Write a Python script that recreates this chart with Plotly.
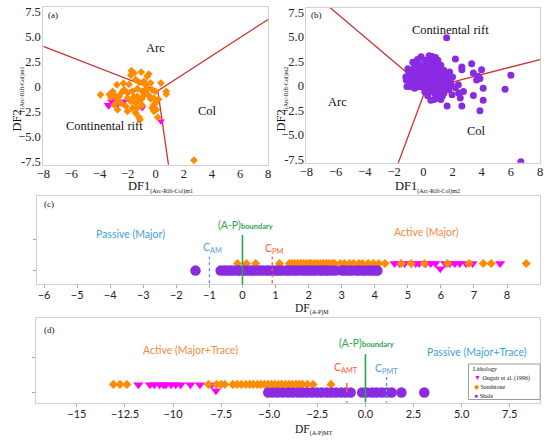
import plotly.graph_objects as go

# ---- panel (a): DF1/DF2 (Arc-Rift-Col) m1 ----
a_sand_x = [-1.73, -1.54, -1.78, -1.03, -0.61, -0.49, -1.43, -1.19, -0.84, -0.72,
            -0.37, 0.37, 0.75, 0.75, -2.76, -3.93, -3.07, -2.90, -2.25, -2.01,
            -1.66, -1.31, -0.96, -0.61, -0.26, -0.02, -1.31, -0.84, -2.72, -2.48,
            -2.01, -1.78, -1.43, -1.19, -0.37, -0.14, -0.02, -0.14, -2.95, -2.13,
            -1.31, -0.96, -0.26, 0.05, -1.66, -2.72, -2.01, -1.43, -0.14, -1.19,
            -1.12, 0.14, 2.72, -3.30, -3.20, -2.60, -2.40, -1.90, -1.55, -0.80,
            -2.30, -1.00, -0.50, 0.20]
a_sand_y = [1.56, 1.33, 1.10, 1.43, 1.00, 1.23, 0.66, 0.43, 0.50, 0.16,
            0.33, 0.33, -0.50, -0.77, 0.16, -0.84, -0.50, -0.90, -0.34, -0.67,
            -0.50, -0.24, -0.50, -0.34, -0.34, -0.50, -1.00, -0.90, -1.34, -1.67,
            -1.17, -1.50, -1.67, -1.44, -1.24, -1.17, -1.67, -1.84, -1.84, -2.00,
            -2.17, -1.90, -2.17, -2.34, -2.17, -2.34, -2.50, -2.67, -2.50, -3.10,
            -3.34, -3.10, -7.40, -0.80, -1.10, -1.00, -0.60, 0.20, -1.05, -0.40,
            0.30, -1.30, -0.90, -1.30]
a_oug_x = [-2.25, -1.66, -3.18, -3.30, -2.83, -2.72, -2.36, -2.25, -0.96, 0.37, -3.42, -3.35, -2.90]
a_oug_y = [-0.44, -0.50, -1.50, -1.84, -1.34, -1.84, -1.67, -1.50, -2.17, -3.50, -1.84, -2.00, -1.40]
# boundary lines (three arms meeting at one junction)
a_bound_x = [-8.0, 0.15, 8.0, None, 0.15, 0.92]
a_bound_y = [4.0, -0.45, 6.7, None, -0.45, -8.0]

# ---- panel (b): DF1/DF2 (Arc-Rift-Col) m2 ----
b_shale_x = [-0.15, 0.40, 0.74, -0.72, -1.05, -1.16, -1.12, -0.60,
             0.84, 0.10, 0.50, 0.95, 1.20, -0.30, 0.20, 0.70,
             -0.60, -0.20, 0.00, 0.30, 0.60, 0.90, 1.15, 1.40,
             -0.90, -0.50, -0.10, 0.20, 0.45, 0.75, 1.00, 1.30,
             -1.00, -0.70, -0.35, 0.05, 0.35, 0.60, 0.85, 1.10, 1.55,
             -0.80, -0.50, -0.20, 0.10, 0.40, 0.70, 0.95, 1.25, 1.60,
             -1.20, -0.90, -0.60, -0.30, 0.00, 0.30, 0.55, 0.85, 1.10, 1.40,
             -0.80, -0.45, -0.15, 0.20, 0.50, 0.80, 1.05, 1.35, 1.75,
             -0.90, -0.30, 0.00, 0.35, 0.65, 0.95, 1.25, 1.55,
             0.10, 0.45, 0.75, 1.05, 1.40, 0.30, 0.90, 1.20,
             0.74, 0.52, 0.96, 1.30, 1.75, 1.97, 2.42, 2.75,
             2.20, 2.64, 2.64, 3.31, 3.99, 3.43, 3.76, 3.65, 3.88,
             6.00, 5.60, 4.10, 3.43, 4.10, 3.88, 2.53, 2.64, 1.63,
             1.60, 6.68, 1.90, 2.20, 2.00, 2.40, 1.80, -0.40, 0.60, 1.00]
b_shale_y = [2.98, 3.08, 2.74, 2.41, 1.75, 0.60, -0.07, -0.24,
             2.90, 2.60, 2.50, 2.30, 2.10, 2.20, 2.20, 2.10,
             1.90, 1.80, 1.95, 1.85, 1.80, 1.75, 1.70, 1.60,
             1.50, 1.55, 1.50, 1.50, 1.45, 1.40, 1.45, 1.30,
             1.20, 1.20, 1.20, 1.15, 1.10, 1.15, 1.05, 1.10, 1.00,
             0.90, 0.85, 0.90, 0.80, 0.85, 0.75, 0.80, 0.75, 0.60,
             0.90, 0.60, 0.55, 0.60, 0.50, 0.55, 0.45, 0.50, 0.40, 0.30,
             0.25, 0.20, 0.25, 0.20, 0.15, 0.10, 0.05, 0.00, -0.10,
             -0.10, -0.10, -0.15, -0.20, -0.25, -0.35, -0.40, -0.30,
             -0.60, -0.55, -0.70, -0.80, -0.75, -1.00, -1.10, -1.40,
             -1.39, -1.46, -1.23, -1.06, -0.40, -0.90, -0.73, -0.57,
             2.74, 1.92, 1.65, 2.25, 1.65, 1.32, 0.99, 0.60, 0.75,
             1.09, -0.34, -0.24, -0.99, -1.46, -2.55, -1.23, -2.06, -2.06,
             4.90, -7.75, 0.30, -0.20, 0.90, 0.10, 1.40, 2.70, 3.00, 2.60]
b_oug_x = [-1.05]
b_oug_y = [0.45]
b_bound_x = [-6.4, 0.18, 8.0, None, 0.18, -1.75]
b_bound_y = [8.0, -0.30, 2.68, None, -0.30, -8.0]

# ---- panel (c): DF(A-P)M ----
c_shale = [-1.42, -0.66, -0.55, -0.47, -0.36, -0.27, -0.15, -0.08, 0.04, 0.13,
           0.24, 0.31, 0.42, 0.53, 0.61, 0.72, 0.80, 0.91, 1.02, 1.10,
           1.21, 1.33, 1.40, 1.52, 1.61, 1.70, 1.83, 1.92, 2.01, 2.12,
           2.20, 2.33, 2.41, 2.52, 2.60, 2.71, 2.82, 3.01, 3.10, 3.22,
           3.30, 3.44, 3.52, 3.63, 3.71, 3.83, 3.92, 4.03, 4.08]
c_sand = [-0.15, 0.12, 0.40, 1.12, 1.42, 1.50, 1.58, 1.67, 1.76, 1.84,
          1.93, 2.02, 2.08, 2.17, 2.26, 2.35, 2.44, 2.53, 2.61, 2.70,
          2.78, 2.96, 3.08, 3.24, 3.36, 3.52, 3.63, 3.80, 3.96, 4.12,
          4.31, 4.80, 5.10, 5.50, 6.20, 6.85, 7.28, 7.52, 8.58]
c_oug = [4.60, 4.75, 4.90, 5.10, 5.24, 5.34, 5.54, 5.69, 5.83, 5.98,
         6.13, 6.27, 6.42, 6.57, 6.76, 6.96, 7.79]
c_oug_y = [0.23, 0.23, 0.23, 0.23, 0.23, 0.23, 0.23, 0.23, 0.23, 0.06,
           0.23, 0.23, 0.23, 0.23, 0.23, 0.23, 0.23]
C_AM, C_PM = -1.0, 0.9

# ---- panel (d): DF(A-P)MT ----
d_shale = [-5.05, -4.82, -4.57, -4.31, -4.02, -3.78, -3.51, -3.27, -3.04, -2.79,
           -2.52, -2.28, -2.01, -1.77, -1.53, -1.26, -1.02, -0.77, -0.17, 0.06,
           0.34, 0.57, 0.85, 1.11, 1.36, 1.87, 3.06]
d_sand = [-13.10, -12.76, -12.40, -8.16, -7.74, -7.50, -7.31, -6.90, -6.68, -6.45,
          -6.22, -6.01, -5.83, -5.62, -5.44, -5.25, -5.07, -4.88, -4.71, -4.52,
          -4.35, -4.16, -3.98, -3.80, -3.61, -3.44, -3.27, -3.02, -2.72, -1.79]
d_oug = [-11.80, -11.20, -10.97, -10.70, -10.50, -10.37, -10.10, -9.86, -9.60, -9.10,
         -8.60, -8.00, -7.77]
d_oug_y = [0.22, 0.22, 0.22, 0.22, 0.22, 0.22, 0.22, 0.22, 0.22, 0.22, 0.22, 0.22, 0.05]
C_AMT, C_PMT = -0.97, 1.1

ORANGE = '#ff8c00'
MAGENTA = '#ff00ff'
PURPLE = '#8a2be2'
RED = '#cc3333'
GREEN = '#2ea44f'
BLUE_TXT = '#3ea3d6'
BLUE_LN = '#5b9bd5'
ORANGE_TXT = '#f28a3a'
RED_TXT = '#ff5a36'
SERIF = 'Liberation Serif'
SANS = 'Lato'
ROW_SAND = 0.23

W, H = 550, 443


def px(v):
    return v / W


def py(v):
    return 1 - v / H


fig = go.Figure()


def pts(x, y, ax, symbol, color, size):
    fig.add_trace(go.Scatter(
        x=x, y=y, xaxis='x' + ax, yaxis='y' + ax, mode='markers',
        marker=dict(symbol=symbol, color=color, size=size, line=dict(width=0)),
        showlegend=False, hoverinfo='skip'))


# (a)
fig.add_trace(go.Scatter(x=a_bound_x, y=a_bound_y, xaxis='x', yaxis='y', mode='lines',
                         line=dict(color=RED, width=1.3), showlegend=False, hoverinfo='skip'))
pts(a_oug_x, a_oug_y, '', 'triangle-down', MAGENTA, 7)
pts(a_sand_x, a_sand_y, '', 'diamond', ORANGE, 6)
# (b)
fig.add_trace(go.Scatter(x=b_bound_x, y=b_bound_y, xaxis='x2', yaxis='y2', mode='lines',
                         line=dict(color=RED, width=1.3), showlegend=False, hoverinfo='skip'))
pts(b_oug_x, b_oug_y, '2', 'triangle-down', MAGENTA, 5)
pts(b_shale_x, b_shale_y, '2', 'circle', PURPLE, 7)
# (c)
pts(c_oug, c_oug_y, '3', 'triangle-down', MAGENTA, 9)
pts(c_sand, [ROW_SAND] * len(c_sand), '3', 'diamond', ORANGE, 7)
pts(c_shale, [0] * len(c_shale), '3', 'circle', PURPLE, 10.5)
# (d)
pts(d_oug, d_oug_y, '4', 'triangle-down', MAGENTA, 9)
pts(d_sand, [ROW_SAND] * len(d_sand), '4', 'diamond', ORANGE, 7)
pts(d_shale, [0] * len(d_shale), '4', 'circle', PURPLE, 10.5)

frame = dict(showline=True, mirror=True, linecolor='#d0d0d0', linewidth=1,
             showgrid=False, zeroline=False, fixedrange=True)
serif_tick = dict(family=SERIF, size=12.5, color='#222')
sans_tick = dict(family=SANS, size=11, color='#222')

ab_xt = [-8, -6, -4, -2, 0, 2, 4, 6, 8]
ab_xl = ['\u22128', '\u22126', '\u22124', '\u22122', '0', '2', '4', '6', '8']
ab_yt = [-7.5, -5, -2.5, 0, 2.5, 5, 7.5]
ab_yl = ['-7.5', '\u22125.0', '\u22122.5', '0', '2.5', '5.0', '7.5']

c_ticks = [-6, -5, -4, -3, -2, -1, 0, 1, 2, 3, 4, 5, 6, 7, 8]
d_ticks = [-15, -12.5, -10, -7.5, -5, -2.5, 0, 2.5, 5, 7.5]
d_labels = ['\u221215', '\u221212.5', '\u221210', '\u22127.5', '\u22125.0',
            '\u22122.5', '0.0', '2.5', '5.0', '7.5']

ab_x = dict(range=[-8, 8], tickvals=ab_xt, ticktext=ab_xl, tickfont=serif_tick, ticks='',
            ticklabelstandoff=-3, ticklabeloverflow='allow', **frame)
ab_y = dict(range=[-7.85, 7.95], tickvals=ab_yt, ticktext=ab_yl, tickfont=serif_tick,
            ticks='', ticklabelstandoff=-1, **frame)
strip_y = dict(tickvals=[0, 1], showticklabels=False, ticks='outside', ticklen=3,
               tickcolor='#aaa', **frame)

fig.update_layout(
    width=W, height=H, margin=dict(l=0, r=0, t=0, b=0),
    paper_bgcolor='white', plot_bgcolor='white', showlegend=False,
    xaxis=dict(domain=[px(37), px(266)], anchor='y', **ab_x),
    yaxis=dict(domain=[py(165), py(5)], anchor='x', **ab_y),
    xaxis2=dict(domain=[px(305), px(543)], anchor='y2', **ab_x),
    yaxis2=dict(domain=[py(163), py(6)], anchor='x2', **ab_y),
    xaxis3=dict(domain=[px(31), px(543)], range=[-6.2, 9.0], anchor='y3',
                tickvals=c_ticks, ticktext=[str(t).replace('-', '\u2212') for t in c_ticks],
                tickfont=sans_tick, ticks='outside', ticklen=3, tickcolor='#aaa',
                ticklabelstandoff=-2, **frame),
    yaxis3=dict(domain=[py(286), py(197)], range=[-0.44, 2.42], anchor='x3', **strip_y),
    xaxis4=dict(domain=[px(30), px(543)], range=[-17.1, 9.08], anchor='y4',
                tickvals=d_ticks, ticktext=d_labels, tickfont=sans_tick, ticks='outside',
                ticklen=3, tickcolor='#aaa', ticklabelstandoff=-2, **frame),
    yaxis4=dict(domain=[py(406), py(320)], range=[-0.28, 2.11], anchor='x4', **strip_y),
)

ann = []


def note(text, x, y, xref='paper', yref='paper', size=12, color='#111', family=SERIF,
         xanchor='center', angle=0):
    ann.append(dict(text=text, x=x, y=y, xref=xref, yref=yref, showarrow=False,
                    xanchor=xanchor, yanchor='middle', textangle=angle,
                    font=dict(size=size, color=color, family=family)))


sub = "<sub><span style='font-size:6px'>%s</span></sub>"
# axis titles
note('DF1' + sub % '(Arc-Rift-Col)m1', px(156), py(188), size=12.5)
note('DF1' + sub % '(Arc-Rift-Col)m2', px(428), py(188), size=12.5)
note('DF2' + sub % '(Arc-Rift-Col)m1', px(11), py(98), size=12.5, angle=-90)
note('DF2' + sub % '(Arc-Rift-Col)m2', px(280), py(98), size=12.5, angle=-90)
note('DF' + sub % '(A-P)M', px(311), py(311), size=11.5)
note('DF' + sub % '(A-P)MT', px(313), py(434), size=11.5)
# panel tags
note('(a)', px(40), py(13), size=9, xanchor='left')
note('(b)', px(308), py(13), size=9, xanchor='left')
note('(c)', px(36), py(205), size=9, xanchor='left')
note('(d)', px(36), py(332), size=9, xanchor='left')
# field names
note('Arc', 0.0, 3.8, 'x', 'y', size=12.5)
note('Col', 3.7, -2.5, 'x', 'y', size=12.5)
note('Continental rift', -3.65, -4.0, 'x', 'y', size=12.5)
note('Continental rift', 1.86, 5.7, 'x2', 'y2', size=12.5)
note('Arc', -5.87, -1.6, 'x2', 'y2', size=12.5)
note('Col', 3.66, -4.6, 'x2', 'y2', size=12.5)
# panel (c) texts
bnd = "(A-P)<span style='font-size:7.5px'><b>boundary</b></span>"
note(bnd, 0.1, 1.48, 'x3', 'y3', size=10.5, color=GREEN, family=SANS)
note('Passive (Major)', -3.4, 1.19, 'x3', 'y3', size=10.5, color=BLUE_TXT, family=SANS)
note('Active (Major)', 5.55, 1.26, 'x3', 'y3', size=10.5, color=ORANGE_TXT, family=SANS)
note('C<sub>AM</sub>', -0.9, 0.74, 'x3', 'y3', size=10.5, color=BLUE_LN, family=SANS)
note('C<sub>PM</sub>', 0.96, 0.71, 'x3', 'y3', size=10.5, color=RED_TXT, family=SANS)
# panel (d) texts
note(bnd, 0.08, 1.39, 'x4', 'y4', size=10.5, color=GREEN, family=SANS)
note('Active (Major+Trace)', -9.1, 1.19, 'x4', 'y4', size=10.5, color=ORANGE_TXT, family=SANS)
note('Passive (Major+Trace)', 5.8, 1.14, 'x4', 'y4', size=10.5, color=BLUE_TXT, family=SANS)
note('C<sub>AMT</sub>', -1.0, 0.69, 'x4', 'y4', size=10.5, color=RED_TXT, family=SANS)
note('C<sub>PMT</sub>', 1.1, 0.67, 'x4', 'y4', size=10.5, color=BLUE_LN, family=SANS)

# legend (drawn by hand so it stays as compact as the original)
legend_items = [('\u25BC', MAGENTA, 'Ouguir et al. (1996)'),
                ('\u25C6', ORANGE, 'Sandstone'),
                ('\u25CF', PURPLE, 'Shale')]
note('Lithology', px(473), py(372), size=6, xanchor='left')
for i, (glyph, col, label) in enumerate(legend_items):
    note("<span style='color:%s;font-size:7px'>%s</span> %s" % (col, glyph, label),
         px(474), py(381 + 9 * i), size=6, xanchor='left')

shapes = [dict(type='rect', xref='paper', yref='paper', x0=px(470), x1=px(543),
               y0=py(403), y1=py(367), line=dict(color='#9a9a9a', width=1),
               fillcolor='rgba(255,255,255,0.9)', layer='above')]


def vline(x, ax, top, color, dash, width=1.4):
    shapes.append(dict(type='line', xref='x' + ax, yref='y' + ax, x0=x, x1=x,
                       y0=-1, y1=top, line=dict(color=color, width=width, dash=dash),
                       layer='above'))


vline(C_AM, '3', 0.45, BLUE_LN, 'dot')
vline(C_PM, '3', 0.45, RED_TXT, 'dot')
vline(0, '3', 1.16, GREEN, 'solid', 1.6)
vline(C_AMT, '4', 0.53, RED_TXT, 'dash')
vline(C_PMT, '4', 0.53, BLUE_LN, 'dot')
vline(0, '4', 1.08, GREEN, 'solid', 1.6)

fig.update_layout(annotations=ann, shapes=shapes)
# the page body has a default 8px margin that would push the figure off the window
fig.write_html('out.html', config={'displayModeBar': False},
               post_script="document.body.style.margin='0';")
